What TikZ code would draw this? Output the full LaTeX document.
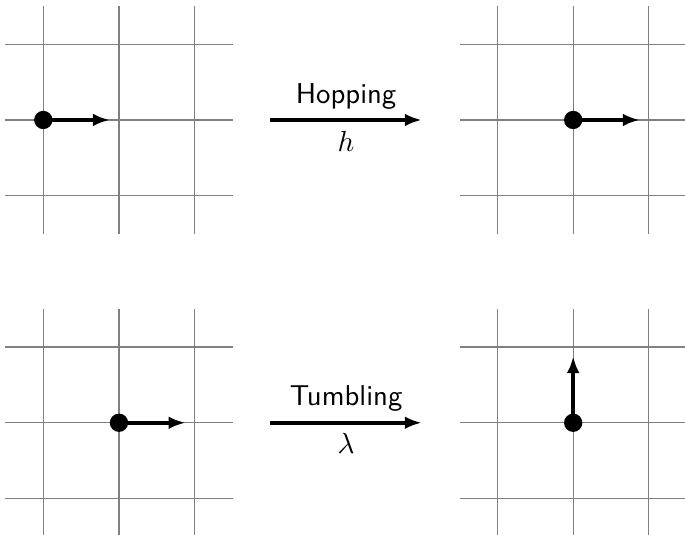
\documentclass[tikz,border=0pt]{standalone}
\usetikzlibrary{arrows.meta}
\tikzset{
  gridline/.style={draw=gray, line width=0.45pt},
  dot/.style={circle, fill=black, inner sep=0pt, minimum size=0.242cm},
  arr/.style={line width=1.5pt, -{Latex[length=6.4pt,width=4.8pt]}},
  lbl/.style={font=\sffamily\fontsize{10.8pt}{13pt}\selectfont},
  mlbl/.style={font=\fontsize{10.8pt}{13pt}\selectfont}
}
\begin{document}
\begin{tikzpicture}
\clip (-1.572,-5.482) rectangle (7.477,1.585);
% grids
\foreach \cx/\cy in {0/0, 6/0, 0/-4, 6/-4}{
  \begin{scope}[shift={(\cx,\cy)}]
    \draw[gridline] (-1.5,-1.5) grid (1.5,1.5);
  \end{scope}
}
% top-left
\node[dot] (d1) at (-1,0) {};
\coordinate (t1) at (-0.12,0);
\draw[arr] (d1.center) -- (t1);
% top-right
\node[dot] (d2) at (6,0) {};
\coordinate (t2) at (6.88,0);
\draw[arr] (d2.center) -- (t2);
% bottom-left
\node[dot] (d3) at (0,-4) {};
\coordinate (t3) at (0.88,-4);
\draw[arr] (d3.center) -- (t3);
% bottom-right
\node[dot] (d4) at (6,-4) {};
\coordinate (t4) at (6,-3.12);
\draw[arr] (d4.center) -- (t4);
% transition arrows
\coordinate (h1) at (2,0);
\coordinate (h2) at (4,0);
\draw[arr] (h1) -- node[above, lbl] (hop) {Hopping} node[below, mlbl] (hl) {$h$} (h2);
\coordinate (b1) at (2,-4);
\coordinate (b2) at (4,-4);
\draw[arr] (b1) -- node[above, lbl] (tum) {Tumbling} node[below, mlbl] (ll) {$\lambda$} (b2);
\end{tikzpicture}
\end{document}
